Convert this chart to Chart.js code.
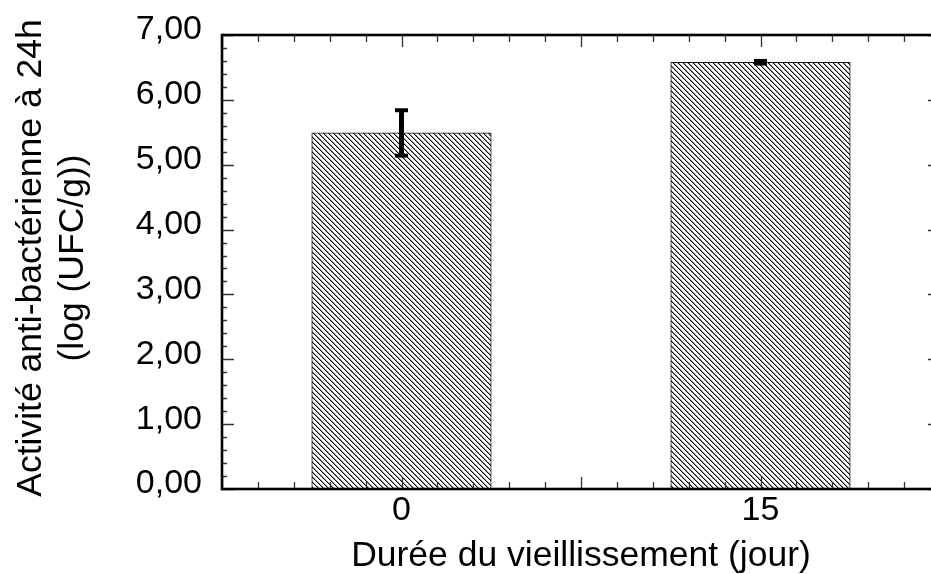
<!DOCTYPE html>
<html lang="fr">
<head>
<meta charset="utf-8">
<title>Activité anti-bactérienne</title>
<script src="https://cdn.jsdelivr.net/npm/chart.js@4.4.1/dist/chart.umd.min.js"></script>
<style>
  html, body { margin: 0; padding: 0; background: #fff; overflow: hidden; }
  canvas { display: block; }
</style>
</head>
<body>
<canvas id="agingChart" width="942" height="574"></canvas>
<script>
// durée du vieillissement (jours) et moyennes log(UFC/g) avec écart-type
const days = [0, 15];
const means = [5.49, 6.58];
const errors = [0.35, 0.02];

const xTitle = 'Durée du vieillissement (jour)';
const yTitle = ['Activité anti-bactérienne à 24h', '(log (UFC/g))'];

const FONT = '"Liberation Sans", Arial, sans-serif';

// hachures diagonales pour le remplissage des barres
function makeHatch() {
  const c = document.createElement('canvas');
  c.width = 5;
  c.height = 5;
  const g = c.getContext('2d');
  g.fillStyle = '#fff';
  g.fillRect(0, 0, 5, 5);
  for (let i = 0; i < 5; i++) {
    g.fillStyle = '#000';
    g.fillRect(i, i, 1, 1);
    g.fillStyle = '#9a9a9a';
    g.fillRect((i + 1) % 5, i, 1, 1);
  }
  return document.getElementById('agingChart').getContext('2d').createPattern(c, 'repeat');
}

// cadre complet avec graduations vers l'intérieur sur les 4 côtés
const frameTicks = {
  id: 'frameTicks',
  afterDatasetsDraw(chart) {
    const { ctx, chartArea: a, scales: { x, y } } = chart;
    ctx.save();
    ctx.strokeStyle = '#333';
    ctx.lineWidth = 1.3;
    ctx.beginPath();
    for (let i = 0; i <= 35; i++) {
      const len = i % 5 === 0 ? 12 : 5;
      const py = Math.round(y.getPixelForValue(i / 5)) + 0.5;
      ctx.moveTo(a.left, py); ctx.lineTo(a.left + len, py);
      ctx.moveTo(a.right, py); ctx.lineTo(a.right - len, py);
    }
    for (let i = 0; i <= 20; i++) {
      const len = i % 5 === 0 ? 12 : 7;
      const px = Math.round(x.getPixelForValue(x.min + i * 1.5)) + 0.5;
      ctx.moveTo(px, a.top); ctx.lineTo(px, a.top + len);
      ctx.moveTo(px, a.bottom); ctx.lineTo(px, a.bottom - len);
    }
    ctx.stroke();
    ctx.strokeStyle = '#000';
    ctx.lineWidth = 2.6;
    ctx.strokeRect(a.left, a.top, a.right - a.left, a.bottom - a.top);
    ctx.restore();
  }
};

// barres d'erreur (± écart-type)
const errorBars = {
  id: 'errorBars',
  afterDatasetsDraw(chart) {
    const { ctx, scales: { x, y } } = chart;
    ctx.save();
    ctx.fillStyle = '#000';
    days.forEach((d, i) => {
      const cx = x.getPixelForValue(d);
      const top = y.getPixelForValue(means[i] + errors[i]);
      const bot = y.getPixelForValue(means[i] - errors[i]);
      ctx.fillRect(cx - 2.5, top, 5, bot - top);
      ctx.fillRect(cx - 6.5, top - 2, 13, 4);
      ctx.fillRect(cx - 6.5, bot - 2, 13, 4);
    });
    ctx.restore();
  }
};

// titres des axes
const axisTitles = {
  id: 'axisTitles',
  afterDraw(chart) {
    const { ctx, chartArea: a } = chart;
    ctx.save();
    ctx.fillStyle = '#000';
    ctx.font = '35.5px ' + FONT;
    ctx.textAlign = 'center';
    ctx.textBaseline = 'alphabetic';
    ctx.fillText(xTitle, (a.left + a.right) / 2, 566);
    ctx.translate(0, 258);
    ctx.rotate(-Math.PI / 2);
    ctx.fillText(yTitle[0], 0, 41);
    ctx.fillText(yTitle[1], 0, 82.5);
    ctx.restore();
  }
};

// pas de marge automatique autour des étiquettes, le cadre est fixé à la main
function noPadding(scale) {
  scale.paddingTop = 0;
  scale.paddingBottom = 0;
  scale.paddingLeft = 0;
  scale.paddingRight = 0;
}

new Chart(document.getElementById('agingChart'), {
  type: 'bar',
  data: {
    datasets: [{
      data: days.map((d, i) => ({ x: d, y: means[i] })),
      backgroundColor: makeHatch(),
      borderColor: '#111',
      borderWidth: 1,
      borderSkipped: 'bottom',
      barPercentage: 1,
      categoryPercentage: 1
    }]
  },
  options: {
    responsive: false,
    animation: false,
    layout: { padding: { top: 35, right: 2, left: 0, bottom: 0 } },
    plugins: { legend: { display: false }, tooltip: { enabled: false } },
    scales: {
      x: {
        type: 'linear',
        min: -7.5,
        max: 22.5,
        offset: false,
        grid: { display: false, drawTicks: false, offset: false },
        border: { display: false },
        afterFit(scale) { scale.height = 85; noPadding(scale); },
        ticks: {
          stepSize: 7.5,
          padding: 1,
          color: '#000',
          font: { family: FONT, size: 34 },
          callback: v => days.includes(v) ? String(v) : ''
        }
      },
      y: {
        min: 0,
        max: 7,
        grid: { display: false, drawTicks: false },
        border: { display: false },
        afterFit(scale) { scale.width = 222; noPadding(scale); },
        ticks: {
          stepSize: 1,
          padding: 20,
          labelOffset: -5,
          color: '#000',
          font: { family: FONT, size: 34 },
          callback: v => v.toFixed(2).replace('.', ',')
        }
      }
    }
  },
  plugins: [frameTicks, errorBars, axisTitles]
});
</script>
</body>
</html>
